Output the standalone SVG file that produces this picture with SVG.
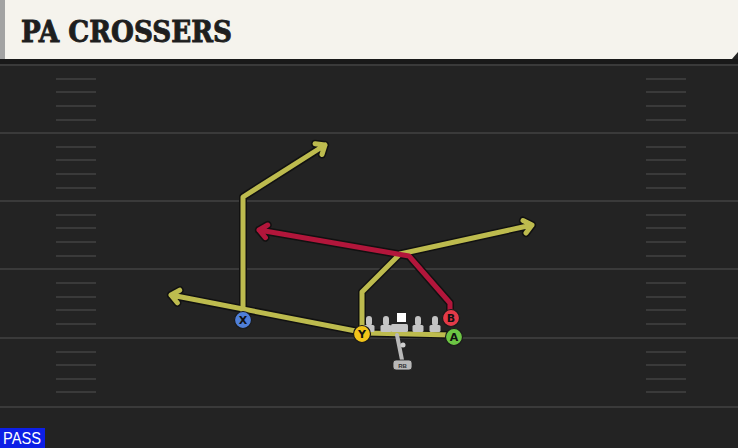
<svg xmlns="http://www.w3.org/2000/svg" xmlns:xlink="http://www.w3.org/1999/xlink" width="738" height="448" viewBox="0 0 738 448">
<style>
.fl{stroke:#3a3a3a;stroke-width:2;fill:none}
.hm{stroke:#3a3a3a;stroke-width:2;fill:none}
.halo{stroke:#111;stroke-width:8;fill:none;stroke-linecap:round;stroke-linejoin:round}
.yl{stroke:#bdbb4e;stroke-width:5;fill:none;stroke-linecap:round;stroke-linejoin:round}
.rd{stroke:#b2163b;stroke-width:5;fill:none;stroke-linecap:round;stroke-linejoin:round}
.pl{fill:#c4c4c4}
.lbl{font-family:"DejaVu Sans","Liberation Sans",sans-serif;font-weight:bold;font-size:11px;fill:#111;text-anchor:middle}
.cir{stroke:#1a1a1a;stroke-width:1.2}
.ttl{font-family:"DejaVu Serif",serif;font-weight:bold;font-size:29px;fill:#1e1e1e;stroke:#1e1e1e;stroke-width:0.9}
</style>
<defs>
<path id="rX" d="M243 318 L243 197 L325 145 M315.1 143.7 L325 145 L322 154.5"/>
<path id="rY" d="M362 332 L362 292 L400 254 L532 225 M523 220.5 L532 225 L526 233"/>
<path id="rA" d="M452 335 L366 333 L171 295 M177.3 302.8 L171 295 L179.7 290.2"/>
<path id="rB" d="M450 312 L450 303 L409 256 L259 230 M265.4 237.6 L259 230 L267.7 225"/>
<g id="ol"><rect x="-3" y="316" width="6" height="10" rx="3"/><rect x="-5.5" y="325" width="11" height="7" rx="1.5"/></g>
</defs>
<rect width="738" height="448" fill="#232323"/>
<g id="field">
<rect x="0" y="59" width="738" height="5" fill="#191919"/>
<line class="fl" x1="0" y1="65" x2="738" y2="65"/>
<line class="fl" x1="0" y1="133" x2="738" y2="133"/>
<line class="fl" x1="0" y1="201" x2="738" y2="201"/>
<line class="fl" x1="0" y1="269" x2="738" y2="269"/>
<line class="fl" x1="0" y1="338" x2="738" y2="338"/>
<line class="fl" x1="0" y1="407" x2="738" y2="407"/>
<path class="hm" d="M56 79H96M56 92H96M56 106H96M56 120H96M56 147H96M56 160H96M56 174H96M56 188H96M56 215H96M56 228H96M56 242H96M56 256H96M56 283H96M56 297H96M56 310H96M56 324H96M56 352H96M56 365H96M56 379H96M56 392H96"/>
<path class="hm" d="M646 79H686M646 92H686M646 106H686M646 120H686M646 147H686M646 160H686M646 174H686M646 188H686M646 215H686M646 228H686M646 242H686M646 256H686M646 283H686M646 297H686M646 310H686M646 324H686M646 352H686M646 365H686M646 379H686M646 392H686"/>
</g>
<g id="header">
<path d="M0 0H738V52L732 59H0Z" fill="#f5f3ed"/>
<rect x="0" y="0" width="5" height="59" fill="#a3a3a3"/>
<text class="ttl" x="21" y="42" textLength="211" lengthAdjust="spacingAndGlyphs">PA CROSSERS</text>
</g>
<g id="connectors">
<use xlink:href="#rX" class="halo"/>
<use xlink:href="#rA" class="halo"/>
<use xlink:href="#rY" class="halo"/>
<use xlink:href="#rB" class="halo"/>
<use xlink:href="#rX" class="yl"/>
<use xlink:href="#rA" class="yl"/>
<use xlink:href="#rY" class="yl"/>
<use xlink:href="#rB" class="rd"/>
</g>
<g id="line">
<use xlink:href="#ol" class="pl" transform="translate(369,0)"/>
<use xlink:href="#ol" class="pl" transform="translate(386,0)"/>
<use xlink:href="#ol" class="pl" transform="translate(418,0)"/>
<use xlink:href="#ol" class="pl" transform="translate(435,0)"/>
<rect x="391" y="324" width="17" height="8" rx="1.5" class="pl"/>
<rect x="397" y="313" width="9" height="9" fill="#ffffff"/>
</g>
<g id="rb">
<path d="M397 335 L402 360" stroke="#b8b8b8" stroke-width="4" fill="none" stroke-linecap="round"/>
<circle cx="403" cy="345" r="2.5" fill="#d0d0d0"/>
<rect x="393" y="360" width="19" height="10" rx="3" fill="#b8b8b8" stroke="#222" stroke-width="0.8"/>
<text x="402.5" y="368" font-family="'Liberation Sans',Arial,sans-serif" font-weight="bold" font-size="6" fill="#333" text-anchor="middle">RB</text>
</g>
<g id="X"><circle class="cir" cx="243" cy="320" r="8.5" fill="#4f7fd8"/><text class="lbl" x="243" y="324">X</text></g>
<g id="Y"><circle class="cir" cx="362" cy="334" r="8.5" fill="#f2c41a"/><text class="lbl" x="362" y="338">Y</text></g>
<g id="B"><circle class="cir" cx="451" cy="318" r="8.5" fill="#e33a48"/><text class="lbl" x="451" y="322">B</text></g>
<g id="A"><circle class="cir" cx="454" cy="337" r="8.5" fill="#6cc544"/><text class="lbl" x="454" y="341">A</text></g>
<g id="pass">
<rect x="0" y="428" width="45" height="20" fill="#0d1fe6"/>
<text x="3" y="444" font-family="'Liberation Sans',Arial,sans-serif" font-size="16" fill="#ffffff" textLength="38" lengthAdjust="spacingAndGlyphs">PASS</text>
</g>
</svg>
